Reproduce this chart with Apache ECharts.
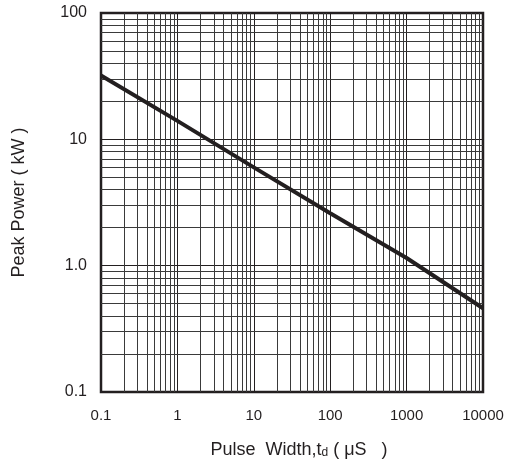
<!DOCTYPE html>
<html><head><meta charset="utf-8">
<script src="https://cdn.jsdelivr.net/npm/echarts@6/dist/echarts.min.js"></script>
<style>html,body{margin:0;padding:0;background:#fff}#c{width:517px;height:464px}</style>
</head><body><div id="c"></div>
<script>
var pulseWidth = [0.1, 1, 10, 100, 1000, 10000];
var peakPower = [32, 14, 6.0, 2.6, 1.15, 0.46];
var xTickLabels = {"0.1":"0.1","1":"1","10":"10","100":"100","1000":"1000","10000":"10000"};
var yTickLabels = {"0.1":"0.1","1":"1.0","10":"10","100":"100"};
var xDecades = [0.1, 1, 10, 100, 1000];
var yDecades = [0.1, 1, 10];
var mults = [2,3,4,5,6,7,8,9];

var gridLines = [];
xDecades.forEach(function(d){ mults.forEach(function(m){ gridLines.push({xAxis: +(d*m).toPrecision(6)}); }); });
yDecades.forEach(function(d){ mults.forEach(function(m){ gridLines.push({yAxis: +(d*m).toPrecision(6)}); }); });

function fmt(map){ return function(v){ var k = String(+v.toPrecision(6)); return map[k] !== undefined ? map[k] : ''; }; }

var chart = echarts.init(document.getElementById('c'));
chart.setOption({
  animation: false,
  grid: {left: 101, right: 34, top: 13, bottom: 72, show: true, borderColor: '#231f20', borderWidth: 2.5},
  xAxis: {
    type: 'log', logBase: 10, min: 0.1, max: 10000,
    axisLine: {show: false}, axisTick: {show: false},
    axisLabel: {formatter: fmt(xTickLabels), color: '#231f20', fontSize: 15, fontFamily: 'Liberation Sans', margin: 16},
    splitLine: {show: true, lineStyle: {color: '#231f20', width: 1}},
    name: '{p|}{a|Pulse  Width,t}{b|d}{a| ( μS   )}', nameLocation: 'middle', nameGap: 49,
    nameTextStyle: {rich: {p: {width: 14}, a: {fontSize: 18, fontFamily: 'Liberation Sans', color: '#231f20'}, b: {fontSize: 12, fontFamily: 'Liberation Sans', color: '#231f20', padding: [6,0,0,0]}}}
  },
  yAxis: {
    type: 'log', logBase: 10, min: 0.1, max: 100,
    axisLine: {show: false}, axisTick: {show: false},
    axisLabel: {formatter: fmt(yTickLabels), color: '#231f20', fontSize: 16, fontFamily: 'Liberation Sans', margin: 14},
    splitLine: {show: true, lineStyle: {color: '#231f20', width: 1}},
    name: 'Peak Power ( kW )', nameLocation: 'middle', nameGap: 73, nameRotate: 90,
    nameTextStyle: {fontSize: 18, fontFamily: 'Liberation Sans', color: '#231f20'}
  },
  series: [{
    type: 'line',
    data: pulseWidth.map(function(x,i){ return [x, peakPower[i]]; }),
    showSymbol: false, symbol: 'none',
    lineStyle: {color: '#231f20', width: 4},
    z: 5,
    markLine: {silent: true, symbol: 'none', label: {show: false}, animation: false,
      lineStyle: {color: '#3a3a3a', width: 1, type: 'solid'}, data: gridLines}
  }]
});
</script></body></html>
